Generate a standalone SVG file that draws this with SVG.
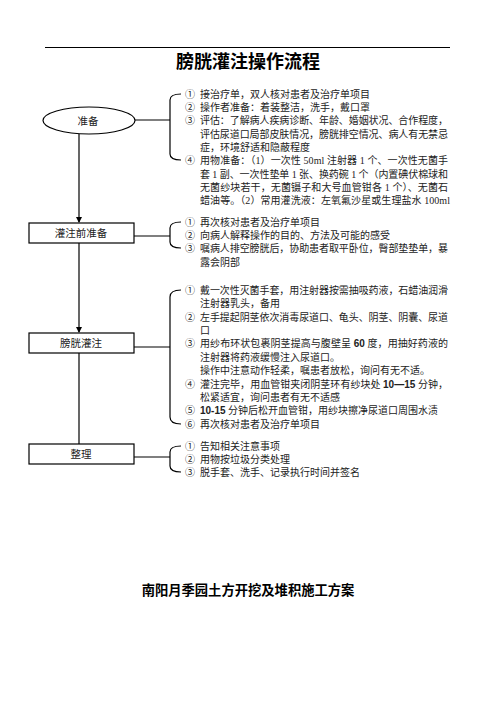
<svg xmlns="http://www.w3.org/2000/svg" width="496" height="702" viewBox="0 0 496 702">
<style>
.t{font-family:"Liberation Serif","Noto Sans CJK SC",serif;font-size:10px;fill:#222}
.b{font-family:"Liberation Sans","Noto Sans CJK SC",sans-serif;font-weight:bold}
.lbl{font-family:"Liberation Serif","Noto Sans CJK SC",serif;font-size:10.5px;fill:#222;text-anchor:middle}
.h{font-family:"Noto Sans CJK SC",sans-serif;font-weight:bold;fill:#000;text-anchor:middle}
.ln{fill:none;stroke:#000;stroke-width:1.2}
.nd{fill:#fff;stroke:#000;stroke-width:1.2}
</style>
<defs>
<marker id="ah" markerWidth="6" markerHeight="6" refX="5" refY="3" orient="auto" markerUnits="userSpaceOnUse">
<path d="M0,0 L6,3 L0,6 z" fill="#000"/>
</marker>
</defs>
<rect width="496" height="702" fill="#fff"/>
<line x1="45" y1="47.5" x2="450" y2="47.5" stroke="#000" stroke-width="1.2"/>
<text class="h" x="248" y="68" font-size="18">膀胱灌注操作流程</text>

<g id="connectors">
<path class="ln" d="M135,120 H170"/>
<path class="ln" d="M181,94 Q170,94 170,100 L170,154 Q170,160 181,160"/>
<path class="ln" d="M79,134 V222" marker-end="url(#ah)"/>
<path class="ln" d="M134,236 H170"/>
<path class="ln" d="M181,222 Q170,222 170,228 L170,242 Q170,248 181,248"/>
<path class="ln" d="M79,243 V332" marker-end="url(#ah)"/>
<path class="ln" d="M134,347 H170"/>
<path class="ln" d="M181,290 Q170,290 170,297 L170,417 Q170,424 181,424"/>
<path class="ln" d="M79,353 V444"/>
<path class="ln" d="M134,457 H170"/>
<path class="ln" d="M181,446 Q170,446 170,452 L170,466 Q170,472 181,472"/>
</g>

<g id="node-prep">
<ellipse class="nd" cx="89" cy="120.5" rx="46" ry="13.5"/>
<text class="lbl" x="88" y="124.5">准备</text>
</g>
<g id="node-pre-infusion">
<rect class="nd" x="29" y="223" width="105" height="20"/>
<text class="lbl" x="81" y="237">灌注前准备</text>
</g>
<g id="node-infusion">
<rect class="nd" x="29" y="333" width="105" height="20"/>
<text class="lbl" x="81" y="347">膀胱灌注</text>
</g>
<g id="node-finish">
<rect class="nd" x="29" y="444" width="105" height="20"/>
<text class="lbl" x="81" y="458">整理</text>
</g>

<g id="text-prep" class="t">
<text x="185" y="97.8">①</text><text x="200" y="97.8">接治疗单，双人核对患者及治疗单项目</text>
<text x="185" y="111.1">②</text><text x="200" y="111.1">操作者准备：着装整洁，洗手，戴口罩</text>
<text x="185" y="124.4">③</text><text x="200" y="124.4" textLength="248" lengthAdjust="spacing">评估：了解病人疾病诊断、年龄、婚姻状况、合作程度，</text>
<text x="200" y="137.7" textLength="248" lengthAdjust="spacing">评估尿道口局部皮肤情况，膀胱排空情况、病人有无禁忌</text>
<text x="200" y="151">症，环境舒适和隐蔽程度</text>
<text x="185" y="164.3">④</text><text x="200" y="164.3" textLength="248" lengthAdjust="spacing">用物准备：（1）一次性 50ml 注射器 1 个、一次性无菌手</text>
<text x="200" y="177.6" textLength="248" lengthAdjust="spacing">套 1 副、一次性垫单 1 张、换药碗 1 个（内置碘伏棉球和</text>
<text x="200" y="190.9" textLength="248" lengthAdjust="spacing">无菌纱块若干，无菌镊子和大号血管钳各 1 个）、无菌石</text>
<text x="200" y="204.2" textLength="250" lengthAdjust="spacing">蜡油等。（2）常用灌洗液：左氧氟沙星或生理盐水 100ml</text>
</g>

<g id="text-pre-infusion" class="t">
<text x="185" y="225.8">①</text><text x="200" y="225.8">再次核对患者及治疗单项目</text>
<text x="185" y="239.1">②</text><text x="200" y="239.1">向病人解释操作的目的、方法及可能的感受</text>
<text x="185" y="252.4">③</text><text x="200" y="252.4" textLength="248" lengthAdjust="spacing">嘱病人排空膀胱后，协助患者取平卧位，臀部垫垫单，暴</text>
<text x="200" y="265.7">露会阴部</text>
</g>

<g id="text-infusion" class="t">
<text x="185" y="293.8">①</text><text x="200" y="293.8" textLength="248" lengthAdjust="spacing">戴一次性灭菌手套，用注射器按需抽吸药液，石蜡油润滑</text>
<text x="200" y="307.2">注射器乳头，备用</text>
<text x="185" y="320.6">②</text><text x="200" y="320.6" textLength="248" lengthAdjust="spacing">左手提起阴茎依次消毒尿道口、龟头、阴茎、阴囊、尿道</text>
<text x="200" y="334">口</text>
<text x="185" y="347.4">③</text><text x="200" y="347.4" textLength="248" lengthAdjust="spacing">用纱布环状包裹阴茎提高与腹壁呈 <tspan class="b">60</tspan> 度，用抽好药液的</text>
<text x="200" y="360.8">注射器将药液缓慢注入尿道口。</text>
<text x="200" y="374.2">操作中注意动作轻柔，嘱患者放松，询问有无不适。</text>
<text x="185" y="387.6">④</text><text x="200" y="387.6" textLength="248" lengthAdjust="spacing">灌注完毕，用血管钳夹闭阴茎环有纱块处 <tspan class="b">10—15</tspan> 分钟，</text>
<text x="200" y="401">松紧适宜，询问患者有无不适感</text>
<text x="185" y="414.4">⑤</text><text x="200" y="414.4"><tspan class="b">10-15</tspan> 分钟后松开血管钳，用纱块擦净尿道口周围水渍</text>
<text x="185" y="427.8">⑥</text><text x="200" y="427.8">再次核对患者及治疗单项目</text>
</g>

<g id="text-finish" class="t">
<text x="185" y="449.8">①</text><text x="200" y="449.8">告知相关注意事项</text>
<text x="185" y="462.8">②</text><text x="200" y="462.8">用物按垃圾分类处理</text>
<text x="185" y="475.8">③</text><text x="200" y="475.8">脱手套、洗手、记录执行时间并签名</text>
</g>

<text class="h" x="248" y="595" font-size="13.3">南阳月季园土方开挖及堆积施工方案</text>
</svg>
